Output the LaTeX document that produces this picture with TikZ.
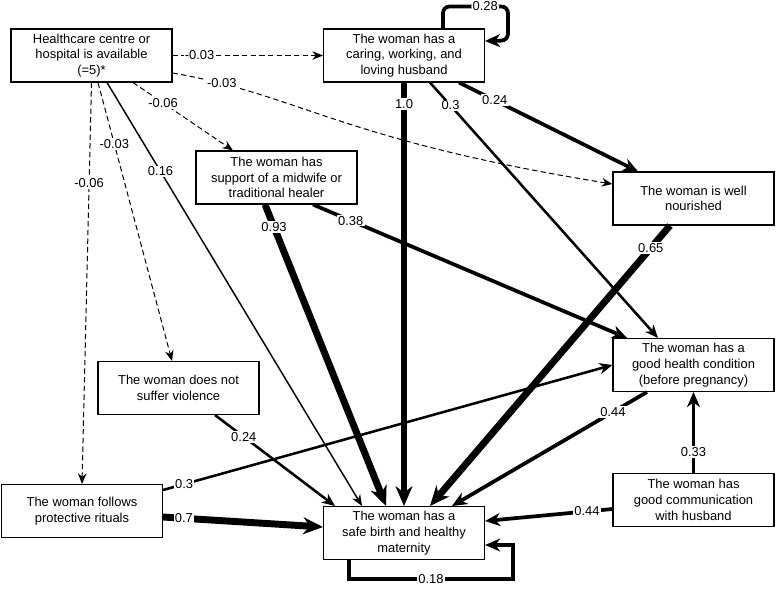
\documentclass[tikz,border=0pt]{standalone}
\usepackage{fontspec}
\setmainfont{Liberation Sans}
\usetikzlibrary{arrows.meta,calc}

\begin{document}
\begin{tikzpicture}[x=0.75pt, y=-0.75pt, font=\fontsize{9.7}{11.8}\selectfont,
	box/.style={draw, line width=0.8pt, minimum width=120.75pt, minimum height=39.75pt, align=center, inner sep=1pt},
	coef/.style={fill=white, inner sep=1pt},
	dashedarr/.style={-{Stealth[length=8pt,width=6.5pt,line width=0pt]}, line width=0.75pt, dash pattern=on 4pt off 2.5pt},
	wgt1/.style={-{Stealth[length=8.5pt,width=7pt,line width=0pt]}, line width=1.1pt},
	wgt2/.style={-{Stealth[length=10pt,width=8.5pt,line width=0pt]}, line width=1.9pt},
	wgt3/.style={-{Stealth[length=11.5pt,width=10pt,line width=0pt]}, line width=2.8pt},
	wgt4/.style={-{Stealth[length=15pt,width=13pt,line width=0pt]}, line width=5.2pt}]
	\useasboundingbox (0,0) rectangle (778,590);
	\node[box] (hc) at (91.5,55.5) {Healthcare centre or\\hospital is available\\(=5)*};
	\node[box] (husb) at (404,55.5) {The woman has a\\caring, working, and\\loving husband};
	\node[box] (midw) at (276.5,177.5) {The woman has\\support of a midwife or\\traditional healer};
	\node[box] (nour) at (693.5,198.5) {The woman is well\\nourished};
	\node[box] (health) at (693.5,365) {The woman has a\\good health condition\\(before pregnancy)};
	\node[box] (viol) at (178.5,388) {The woman does not\\suffer violence};
	\node[box] (rit) at (82,511) {The woman follows\\protective rituals};
	\node[box] (comm) at (693.5,500) {The woman has\\good communication\\with husband};
	\node[box] (safe) at (404,533) {The woman has a\\safe birth and healthy\\maternity};

	\draw[dashedarr] (hc) -- node[coef,pos=0.18]{-0.03} (husb);
	\draw[dashedarr] ($(hc.east)+(0,17.5)$) .. controls (300,95) and (340,140) .. node[coef,pos=0.14]{-0.03} ($(nour.west)+(0,-14.5)$);
	\draw[dashedarr] ($(hc.south)+(41.5,0)$) -- node[coef,pos=0.3]{-0.06} ($(midw.north)+(-43.5,0)$);
	\draw[dashedarr] ($(hc.south)+(6.5,0)$) -- node[coef,pos=0.22]{-0.03} ($(viol.north)+(-6.5,0)$);
	\draw[dashedarr] (hc.south) -- node[coef,pos=0.25]{-0.06} (rit.north);
	\draw[wgt1] ($(hc.south)+(15.5,0)$) -- node[coef,pos=0.21]{0.16} ($(safe.north)+(-42,0)$);

	\draw[wgt4] (husb) -- node[coef,pos=0.05]{1.0} (safe);
	\draw[wgt2] ($(husb.south)+(26,0)$) -- node[coef,pos=0.09]{0.3} ($(health.north)+(-35.5,0)$);
	\draw[wgt3] ($(husb.south)+(55,0)$) -- node[coef,pos=0.2]{0.24} ($(nour.north)+(-55.5,0)$);
	\draw[wgt3, rounded corners=5pt] ($(husb.north)+(39,0)$) -- ++(0,-22) -- node[coef,pos=0.65]{0.28} ++(65,0) -- ++(0,34) -- ($(husb.east)+(0,-14.5)$);

	\draw[wgt4] ($(midw.south)+(-11.5,0)$) -- node[coef,pos=0.075]{0.93} ($(safe.north)+(-18,0)$);
	\draw[wgt3] ($(midw.south)+(36.5,0)$) -- node[coef,pos=0.12]{0.38} ($(health.north)+(-66.5,0)$);
	\draw[wgt4] ($(nour.south)+(-23.5,0)$) -- node[coef,pos=0.08]{0.65} ($(safe.north)+(26,0)$);
	\draw[wgt2] ($(viol.south)+(36.5,0)$) -- node[coef,pos=0.24]{0.24} ($(safe.north)+(-69,0)$);
	\draw[wgt2] ($(rit.east)+(0,-21)$) -- node[coef,pos=0.047]{0.3} (health.west);
	\draw[wgt4] ($(rit.east)+(0,6)$) -- node[coef,pos=0.13]{0.7} ($(safe.west)+(0,-6)$);
	\draw[wgt3] ($(health.south)+(-46.5,0)$) -- node[coef,pos=0.175]{0.44} ($(safe.north)+(48,0)$);
	\draw[wgt3] (comm) -- node[coef,pos=0.26]{0.33} (health);
	\draw[wgt3] ($(comm.west)+(0,9)$) -- node[coef,pos=0.2]{0.44} ($(safe.east)+(0,-12)$);
	\draw[wgt3] ($(safe.south)+(-55,0)$) -- ++(0,19) -- node[coef,pos=0.5]{0.18} ++(164,0) -- ++(0,-34) -- ($(safe.east)+(0,12)$);
\end{tikzpicture}
\end{document}
